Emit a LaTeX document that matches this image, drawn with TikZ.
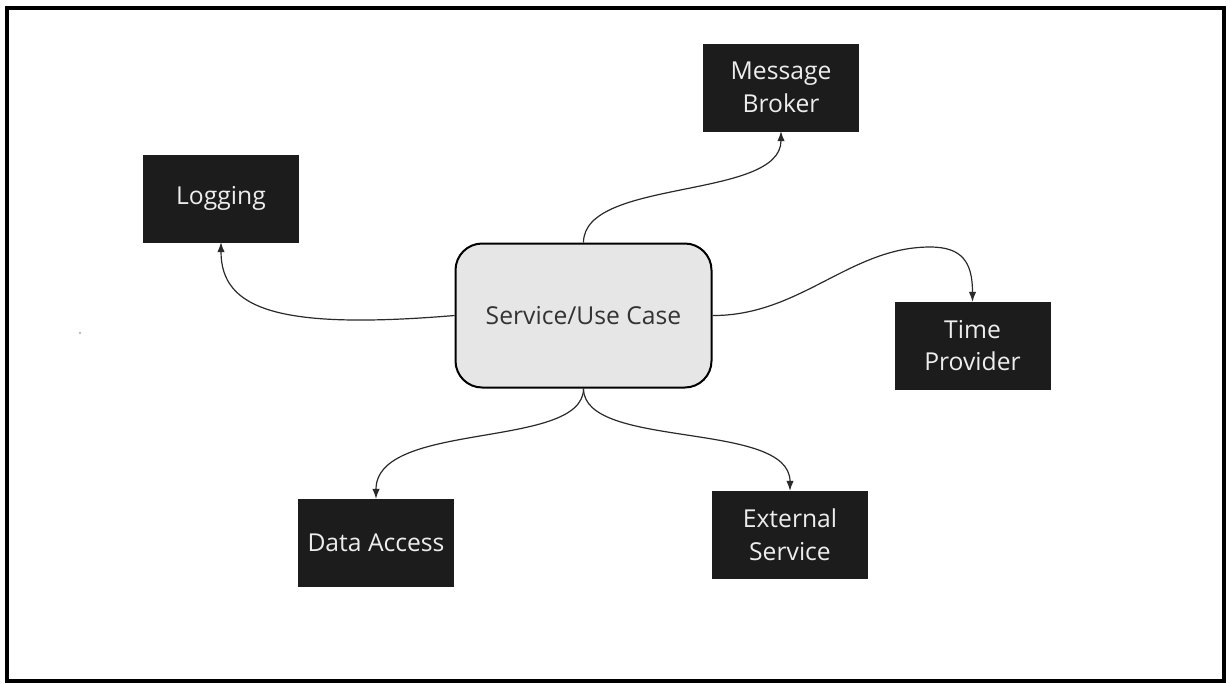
\documentclass[tikz,border=0pt]{standalone}
\usepackage{fontspec}
\setmainfont{Open Sans}
\usetikzlibrary{arrows.meta}
\definecolor{boxfill}{HTML}{1C1C1C}
\definecolor{boxtext}{HTML}{EDEDED}
\definecolor{svcfill}{HTML}{E6E6E6}
\definecolor{svctext}{HTML}{333333}
\definecolor{wire}{HTML}{2A2A2A}
\tikzset{
  darkbox/.style={draw=boxfill, fill=boxfill, text=boxtext, minimum width=116pt, minimum height=65pt,
    inner sep=0pt, align=center, font=\fontsize{18.5}{24.5}\selectfont},
  svcbox/.style={draw=black, line width=1.5pt, fill=svcfill, text=svctext, rounded corners=20pt,
    minimum width=192pt, minimum height=108pt, inner sep=0pt, align=center, font=\fontsize{18.5}{24.5}\selectfont},
  wirearrow/.style={draw=wire, line width=0.9pt, -{Latex[length=7.5pt,width=5.5pt]}}
}
\begin{document}
\begin{tikzpicture}[x=0.75pt,y=-0.75pt]
\useasboundingbox (0,0) rectangle (1230,683);
\fill[white] (0,0) rectangle (1230,683);
\draw[black, line width=3.5pt] (7,8) rectangle (1224,681);
\fill[gray!70] (80,333) circle (1.2);

\node[svcbox] (svc) at (583.5,315.5) {Service/Use Case};
\node[darkbox] (mb) at (781,87.5) {Message\\Broker};
\node[darkbox] (log) at (221,198.5) {Logging};
\node[darkbox] (tp) at (972.5,345.5) {Time\\Provider};
\node[darkbox] (da) at (376,542.5) {Data Access};
\node[darkbox] (es) at (790,534.5) {External\\Service};

\coordinate (tpk) at (930,247);

\draw[wirearrow] (svc.north) .. controls (583.5,178) and (781,200) .. (mb.south);
\draw[wirearrow] (svc.west) .. controls (280,330) and (221,310) .. (log.south);
\draw[wirearrow] (svc.east) .. controls (800,316) and (850,247) .. (tpk) .. controls (962,247) and (972.5,262) .. (tp.north);
\draw[wirearrow] (svc.south) .. controls (583.5,450) and (376,420) .. (da.north);
\draw[wirearrow] (svc.south) .. controls (583.5,450) and (790,420) .. (es.north);
\end{tikzpicture}
\end{document}
